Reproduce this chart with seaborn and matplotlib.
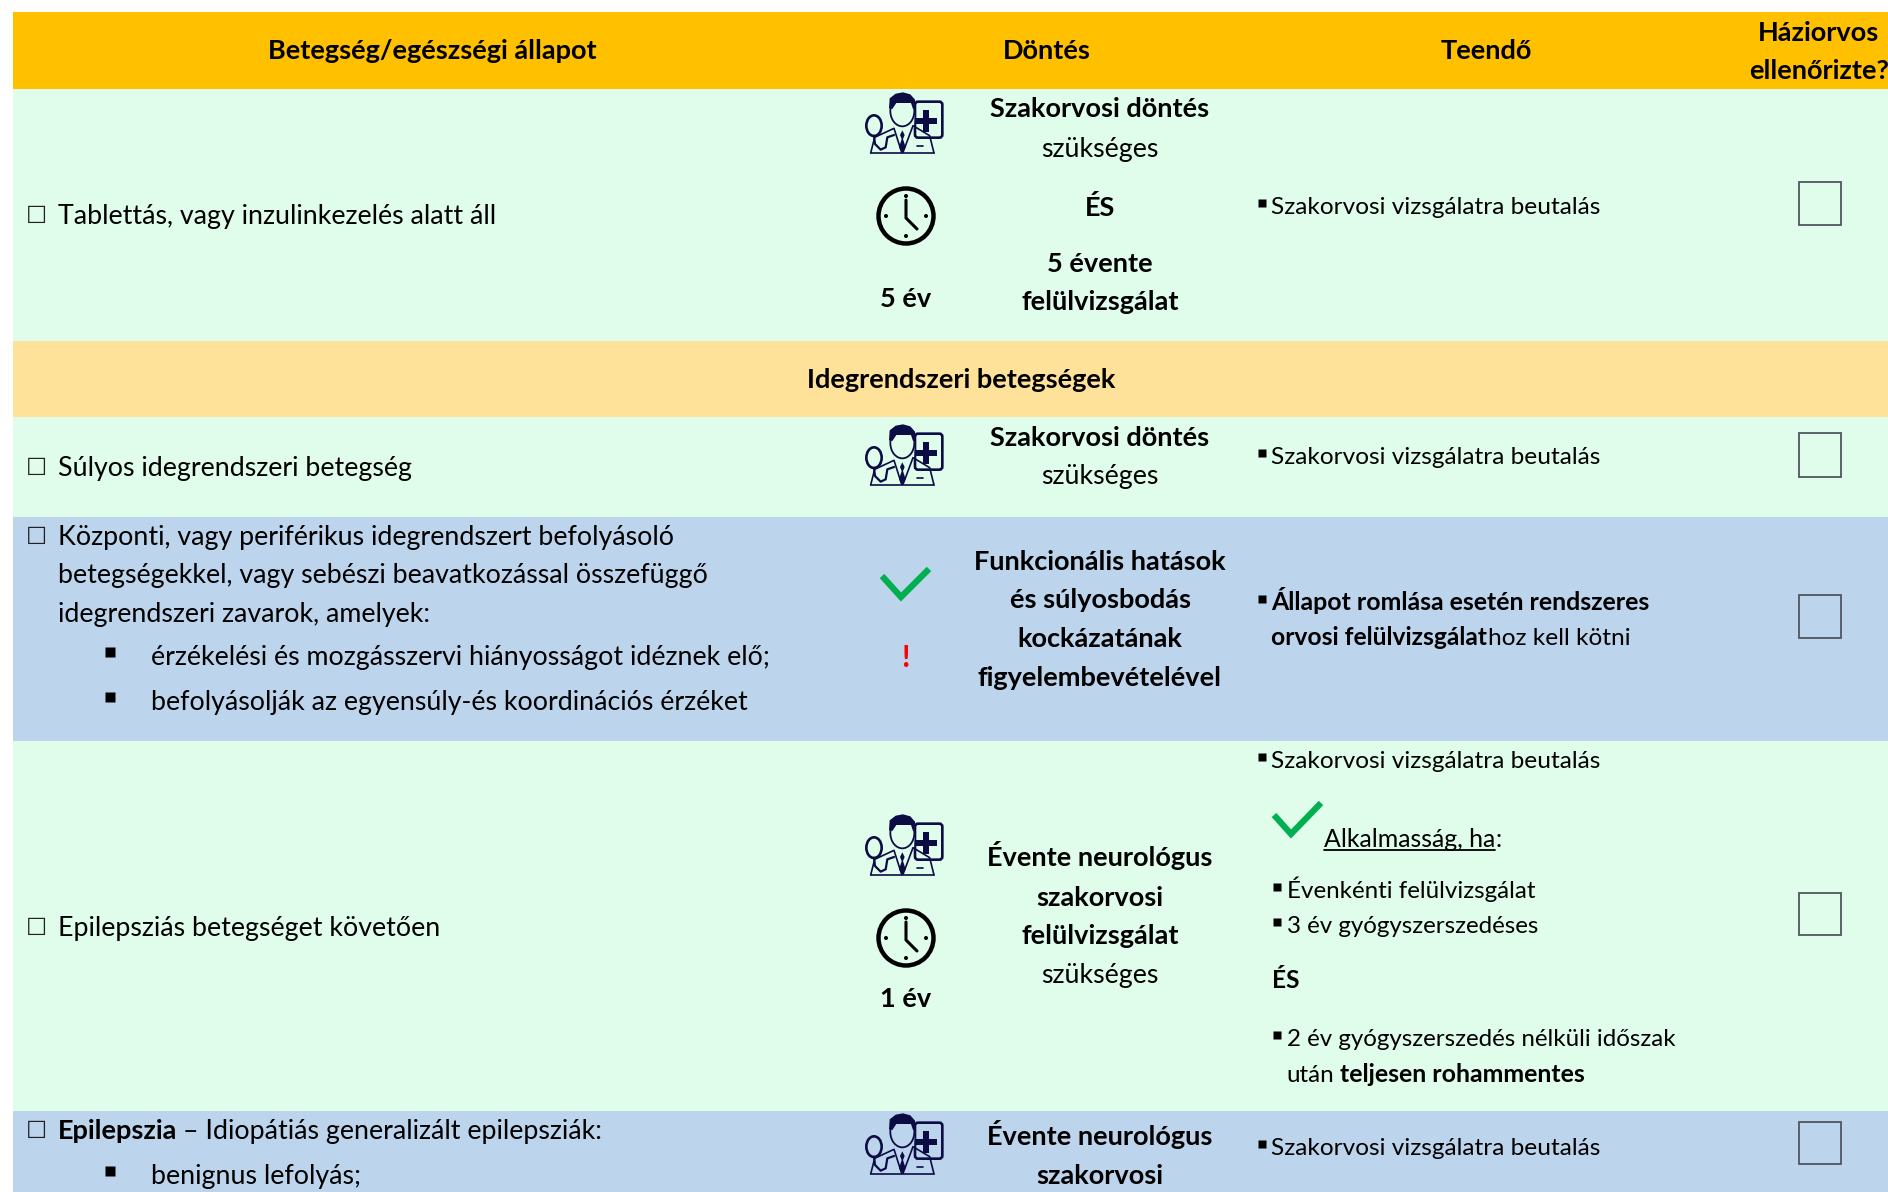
import matplotlib
matplotlib.use("Agg")
import matplotlib.pyplot as plt
from matplotlib.patches import Circle, Ellipse, FancyBboxPatch, Polygon, Rectangle
import seaborn as sns

# === DATA
header_labels = ["Betegség/egészségi állapot", "Döntés", "Teendő"]
header_check = ["Háziorvos", "ellenőrizte?"]
section_label = "Idegrendszeri betegségek"
row_kinds = ["header", "green", "section", "green", "blue", "green", "blue"]
row_heights = [77, 252, 76, 100, 224, 370, 81]
row_colors = {"header": "#FFC000", "green": "#E0FCEB", "section": "#FFE299", "blue": "#BDD4ED"}

cond_tablet = "Tablettás, vagy inzulinkezelés alatt áll"
cond_severe = "Súlyos idegrendszeri betegség"
cond_central = ["Központi, vagy periférikus idegrendszert befolyásoló",
                "betegségekkel, vagy sebészi beavatkozással összefüggő",
                "idegrendszeri zavarok, amelyek:"]
cond_central_items = ["érzékelési és mozgásszervi hiányosságot idéznek elő;",
                      "befolyásolják az egyensúly-és koordinációs érzéket"]
cond_epil = "Epilepsziás betegséget követően"
cond_idio = ("Epilepszia", "– Idiopátiás generalizált epilepsziák:")
cond_idio_item = "benignus lefolyás;"

specialist = ["Szakorvosi döntés", "szükséges"]
five_year = ["ÉS", "5 évente", "felülvizsgálat"]
functional = ["Funkcionális hatások", "és súlyosbodás", "kockázatának", "figyelembevételével"]
yearly = ["Évente neurológus", "szakorvosi", "felülvizsgálat"]
needed = "szükséges"
period_5 = "5 év"
period_1 = "1 év"

referral = "Szakorvosi vizsgálatra beutalás"
worsening = ["Állapot romlása esetén rendszeres", "orvosi felülvizsgálat", "hoz kell kötni"]
fit_title = "Alkalmasság, ha"
fit_items = ["Évenkénti felülvizsgálat", "3 év gyógyszerszedéses"]
fit_and = "ÉS"
fit_last = ["2 év gyógyszerszedés nélküli időszak", "után", "teljesen rohammentes"]

# === STYLE
sns.set_theme(style="white")
plt.rcParams['font.family'] = ['Lato', 'DejaVu Sans']
NAVY = "#0C0C45"
GREEN = "#00B050"
BODY = 19.3
BOLD = 19.55
SMALL = 17.6
FIT = 17.35
SMALL_BOLD = 17.9

fig = plt.figure(figsize=(18.88, 11.92), dpi=100)
ax = fig.add_axes([0, 0, 1, 1])

# === Row bands
top = 12
for kind, h in zip(row_kinds, row_heights):
    sns.barplot(x=[1888 - 13], y=[top + h / 2], orient="y", native_scale=True, width=h,
                color=row_colors[kind], saturation=1, errorbar=None, left=13, linewidth=0, ax=ax)
    top += h

ax.set_xlim(0, 1888)
ax.set_ylim(1192, 0)
ax.axis("off")
renderer = fig.canvas.get_renderer()


def txt(x, y, s, bold=False, ha="left", color="black", size=None):
    if size is None:
        size = BOLD if bold else BODY
    # baseline placement keeps accented capitals on the same line as the rest
    return ax.text(x, y + 0.38 * size * 100 / 72, s, ha=ha, va="baseline", color=color, fontsize=size,
                   fontweight="bold" if bold else "normal", clip_on=True)


def end_x(t):
    bb = t.get_window_extent(renderer)
    return ax.transData.inverted().transform((bb.x1, bb.y0))[0]


def bullet(x, y, size=5.5):
    ax.plot([x], [y], marker="s", ms=size, color="black", mec="none", ls="none")


def condition(y, s):
    ax.text(26, y + 9, "\u2610", ha="left", va="baseline", fontsize=17, family=["DejaVu Sans"], color="#222222")
    if s:
        txt(58, y, s)


def check_box(y0, y1):
    ax.add_patch(Rectangle((1799, y0), 42, y1 - y0, fill=False, ec="#505560", lw=1.3))


def tick(x0, y0, x1, y1, x2, y2):
    ax.plot([x0, x1, x2], [y0, y1, y2], color=GREEN, lw=4.5, solid_joinstyle="miter", solid_capstyle="butt")


def clock(cx, cy, bg):
    ax.add_patch(Circle((cx, cy), 27.5, fill=False, ec="black", lw=3.2))
    ax.plot([cx, cx, cx + 11], [cy - 16, cy + 2, cy + 13], color="black", lw=2.2, solid_capstyle="round")
    for dx, dy in [(0, -20), (0, 20), (-20, 0), (20, 0)]:
        ax.add_patch(Circle((cx + dx, cy + dy), 1.3, color="black"))


def doctor(cx, cy, bg):
    # icon drawn in a 232x184 box, scaled down by 3
    def p(x, y):
        return cx + (x - 118) / 3, cy + (y - 92) / 3

    def draw(pts, lw=1.2):
        xy = [p(*q) for q in pts]
        ax.plot([q[0] for q in xy], [q[1] for q in xy], color=NAVY, lw=lw, solid_capstyle="round")

    # clipboard
    x0, y0 = p(148, 28)
    ax.add_patch(FancyBboxPatch((x0, y0), 82 / 3, 108 / 3, boxstyle="round,pad=0,rounding_size=3",
                                fill=False, ec=NAVY, lw=1.9))
    # body covers the left side of the board
    ax.add_patch(Polygon([p(15, 182), p(25, 135), p(95, 105), p(145, 105), p(147, 60), p(140, 20), p(60, 20),
                          p(60, 182)], color=bg, ec="none"))
    x0, y0 = p(148, 76)
    ax.add_patch(Rectangle((x0, y0), 66 / 3, 18 / 3, color=NAVY, lw=0))
    x0, y0 = p(172, 52)
    ax.add_patch(Rectangle((x0, y0), 18 / 3, 66 / 3, color=NAVY, lw=0))
    # coat and collar
    draw([(15, 182), (27, 135), (85, 108), (108, 180)])
    draw([(205, 182), (192, 130), (142, 100), (112, 180)])
    draw([(15, 182), (205, 182)])
    draw([(155, 162), (172, 162)])
    # tie
    ax.add_patch(Polygon([p(110, 114), p(103, 128), p(108, 140), p(100, 165), p(110, 182), p(120, 165), p(112, 140),
                          p(117, 128)], color=NAVY, lw=0))
    # head
    ax.add_patch(Ellipse(p(110, 56), 72 / 3, 92 / 3, fc=bg, ec=NAVY, lw=1.3))
    ax.add_patch(Polygon([p(70, 48), p(72, 18), p(90, 4), p(112, 0), p(134, 6), p(148, 22), p(150, 48), p(142, 50),
                          p(136, 32), p(92, 32), p(80, 50)], color=NAVY, lw=0))
    # stethoscope
    ax.add_patch(Ellipse(p(25, 100), 46 / 3, 62 / 3, fill=False, ec=NAVY, lw=1.9))
    draw([(25, 130), (28, 155), (45, 172), (60, 165), (65, 135), (85, 128)], lw=1.6)


def specialist_block(y_icon, y0, y1):
    doctor(905, y_icon, row_colors["green"])
    txt(1100, y0, specialist[0], bold=True, ha="center")
    txt(1100, y1, specialist[1], ha="center")


def referral_line(y):
    bullet(1262, y - 2)
    txt(1271, y, referral, size=SMALL)


# === Header
txt(432, 49, header_labels[0], bold=True, ha="center")
txt(1047, 49, header_labels[1], bold=True, ha="center")
txt(1486, 49, header_labels[2], bold=True, ha="center")
txt(1819, 31, header_check[0], bold=True, ha="center")
txt(1819, 69, header_check[1], bold=True, ha="center")

# === Row 1
condition(214, cond_tablet)
specialist_block(123, 107, 147)
clock(906, 216, row_colors["green"])
txt(906, 297, period_5, bold=True, ha="center")
for y, s in zip([206, 262, 300], five_year):
    txt(1100, y, s, bold=True, ha="center")
referral_line(205)
check_box(182, 225)

# === Section
txt(961, 378, section_label, bold=True, ha="center")

# === Row 2
condition(466, cond_severe)
specialist_block(455, 436, 474)
referral_line(455)
check_box(433, 477)

# === Row 3
condition(535, cond_central[0])
for y, s in zip([573, 612], cond_central[1:]):
    txt(58, y, s)
for y, s in zip([655, 700], cond_central_items):
    bullet(110, y - 3, 6.5)
    txt(151, y, s)
tick(882, 576, 901, 597, 929, 569)
txt(905, 655, "!", bold=True, ha="center", color="#FF0000", size=22)
for y, s in zip([560, 598, 637, 676], functional):
    txt(1100, y, s, bold=True, ha="center")
bullet(1262, 599)
txt(1271, 601, worsening[0], bold=True, size=SMALL_BOLD)
t = txt(1271, 636, worsening[1], bold=True, size=SMALL_BOLD - 0.2)
txt(end_x(t) + 1, 636, worsening[2], size=SMALL)
check_box(595, 638)

# === Row 4
condition(926, cond_epil)
doctor(905, 845, row_colors["green"])
clock(906, 938, row_colors["green"])
txt(906, 997, period_1, bold=True, ha="center")
for y, s in zip([856, 896, 934], yearly):
    txt(1100, y, s, bold=True, ha="center")
txt(1100, 973, needed, ha="center")
referral_line(759)
tick(1274, 815, 1291, 834, 1321, 803)
t = txt(1324, 838, fit_title, size=SMALL_BOLD)
end = end_x(t)
ax.plot([1324, end], [850, 850], color="black", lw=1.3)
txt(end, 838, ":", size=SMALL_BOLD)
for y, s in zip([889, 924], fit_items):
    bullet(1277, y - 2)
    txt(1287, y, s, size=FIT)
txt(1272, 979, fit_and, bold=True, size=SMALL)
bullet(1277, 1035)
txt(1287, 1037, fit_last[0], size=FIT)
t = txt(1286, 1073, fit_last[1], size=FIT)
txt(end_x(t) + 6, 1073, fit_last[2], bold=True, size=SMALL_BOLD)
check_box(893, 935)

# === Row 5
condition(1129, "")
t = txt(58, 1129, cond_idio[0], bold=True)
txt(end_x(t) + 6, 1129, cond_idio[1])
bullet(110, 1171, 6.5)
txt(151, 1174, cond_idio_item)
doctor(905, 1144, row_colors["blue"])
txt(1100, 1135, yearly[0], bold=True, ha="center")
txt(1100, 1174, yearly[1], bold=True, ha="center")
referral_line(1146)
check_box(1122, 1164)

fig.savefig("out.png", dpi=100)
